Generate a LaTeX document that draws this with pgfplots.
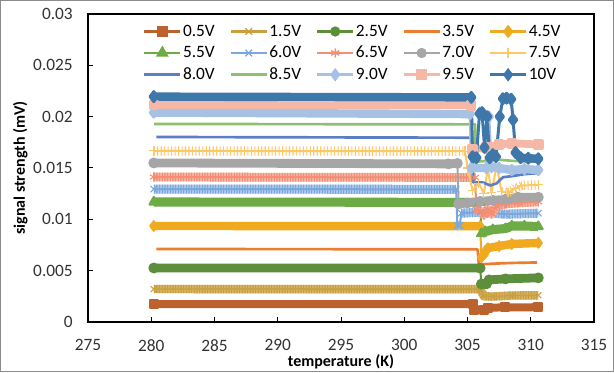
\documentclass[border=0pt]{standalone}
\usepackage{pgfplots}
\pgfplotsset{compat=1.18}
\usepackage{pgfplotstable}
\usepackage{fontspec}
\setmainfont{Carlito}
\definecolor{c05}{HTML}{BC622E}
\definecolor{c15}{HTML}{C9A03F}
\definecolor{c25}{HTML}{5C8E3C}
\definecolor{c35}{HTML}{ED7D31}
\definecolor{c45}{HTML}{EFAA1F}
\definecolor{c55}{HTML}{6CAB45}
\definecolor{c60}{HTML}{7BA8DC}
\definecolor{c65}{HTML}{F28E73}
\definecolor{c70}{HTML}{A6A6A6}
\definecolor{c75}{HTML}{FFC866}
\definecolor{c80}{HTML}{5B7EC7}
\definecolor{c85}{HTML}{8CC16E}
\definecolor{c90}{HTML}{A5C2E5}
\definecolor{c95}{HTML}{F5B8A7}
\definecolor{c10}{HTML}{3E77A9}
\definecolor{bordergray}{HTML}{8C8C8C}
\begin{document}
\pgfplotstableread{
x y
280.2 0.00175
305.4 0.00174
305.45 nan
305.5 0.00120
306.3 0.00120
306.6 0.00140
308.0 0.00142
310.6 0.00144
}\tA
\pgfplotstableread{
x y
280.2 0.00321
306.0 0.00320
306.3 0.00250
307.0 0.00248
308.5 0.00258
310.6 0.00260
}\tB
\pgfplotstableread{
x y
280.2 0.00526
306.0 0.00525
306.05 nan
306.1 0.00370
306.5 0.00372
306.7 0.00410
308.0 0.00420
310.6 0.00430
}\tC
\pgfplotstableread{
x y
280.4 0.00711
305.8 0.00708
305.9 0.00560
307.0 0.00568
308.5 0.00575
310.5 0.00580
}\tD
\pgfplotstableread{
x y
280.2 0.00935
306.0 0.00933
306.05 nan
306.1 0.00630
306.3 0.00660
306.6 0.00720
307.5 0.00740
308.5 0.00760
310.6 0.00770
}\tE
\pgfplotstableread{
x y
280.2 0.01169
306.0 0.01165
306.05 nan
306.1 0.00860
306.4 0.00880
307.0 0.00900
308.0 0.00910
308.5 0.00935
309.5 0.00935
310.6 0.00930
}\tF
\pgfplotstableread{
x y
280.2 0.01295
304.1 0.01292
304.15 nan
304.2 0.00940
304.4 0.00940
304.45 nan
304.5 0.01060
306.0 0.01070
308.0 0.01050
310.6 0.01060
}\tG
\pgfplotstableread{
x y
280.2 0.01412
305.6 0.01408
305.65 nan
305.7 0.01100
306.0 0.01080
306.3 0.01040
306.6 0.01100
306.9 0.01050
307.3 0.01130
308.0 0.01150
309.0 0.01160
310.6 0.01170
}\tH
\pgfplotstableread{
x y
280.2 0.01549
303.5 0.01540
304.2 0.01545
304.25 nan
304.3 0.01150
305.0 0.01160
306.0 0.01175
307.0 0.01185
308.0 0.01195
309.0 0.01215
310.6 0.01215
}\tI
\pgfplotstableread{
x y
280.2 0.01666
304.8 0.01664
304.85 nan
305.0 0.01500
305.05 nan
305.4 0.01280
305.45 nan
305.9 0.01350
305.95 nan
306.3 0.01250
306.35 nan
306.6 0.01500
306.65 nan
306.9 0.01260
306.95 nan
307.3 0.01520
307.35 nan
307.7 0.01270
308.2 0.01260
308.8 0.01300
309.3 0.01330
310.6 0.01335
}\tJ
\pgfplotstableread{
x y
280.4 0.01802
305.4 0.01795
305.45 0.01360
306.2 0.01360
306.8 0.01330
307.3 0.01350
307.8 0.01410
308.5 0.01420
309.5 0.01440
310.6 0.01450
}\tK
\pgfplotstableread{
x y
280.2 0.01929
305.6 0.01925
305.65 0.01560
306.5 0.01570
307.5 0.01580
308.5 0.01570
310.6 0.01560
}\tL
\pgfplotstableread{
x y
280.2 0.02040
305.2 0.02025
305.25 nan
305.3 0.01500
306.5 0.01500
306.55 nan
306.7 0.02000
306.75 nan
306.9 0.01510
307.5 0.01500
308.5 0.01480
309.5 0.01490
310.6 0.01480
}\tM
\pgfplotstableread{
x y
280.2 0.02114
305.3 0.02110
305.35 nan
305.4 0.01680
306.5 0.01700
307.5 0.01730
308.5 0.01740
310.6 0.01730
}\tN
\pgfplotstableread{
x y
280.2 0.02195
305.3 0.02188
305.35 nan
305.4 0.01610
305.7 0.01600
305.75 nan
305.95 0.02030
306.0 nan
306.15 0.02040
306.2 nan
306.35 0.01700
306.4 nan
306.55 0.02000
306.6 nan
306.75 0.01600
306.8 nan
307.0 0.01630
307.05 nan
307.25 0.01610
307.3 nan
307.55 0.02000
307.6 nan
307.8 0.02175
308.1 0.02180
308.45 0.02170
308.5 nan
308.6 0.01970
308.65 nan
308.8 0.01650
309.2 0.01600
309.8 0.01595
310.6 0.01590
}\tO
\begin{tikzpicture}
\useasboundingbox (-66pt,-38.25pt) rectangle (394.5pt,241.5pt);
\draw[color=bordergray, line width=0.75pt] (-65.25pt,-37.5pt) rectangle (393.75pt,240.75pt);
\begin{axis}[
  at={(0pt,0pt)}, anchor=south west,
  scale only axis, width=379.5pt, height=231pt,
  xmin=275, xmax=315, ymin=0, ymax=0.03,
  xtick={275,280,...,315},
  ytick={0,0.005,0.01,0.015,0.02,0.025,0.03},
  yticklabels={0,0.005,0.01,0.015,0.02,0.025,0.03},
  scaled ticks=false,
  tick align=inside, tick pos=left,
  major tick length=3.75pt,
  tick style={black, line width=0.75pt},
  axis line style={black, line width=1pt},
  tick label style={font=\fontsize{13}{15}\selectfont, text=black!80, inner sep=0pt},
  xticklabel style={anchor=north, yshift=-13pt},
  yticklabel style={anchor=east, xshift=-11.25pt},
  /pgf/number format/assume math mode=true,
  xlabel={temperature (K)},
  ylabel={signal strength (mV)},
  xlabel style={at={(axis description cs:0.5,-0.13)}, anchor=center, font=\bfseries\fontsize{12}{14}\selectfont},
  ylabel style={at={(axis description cs:-0.134,0.5)}, anchor=center, font=\bfseries\fontsize{12}{14}\selectfont},
  legend columns=5,
  legend cell align=left,
  legend image code/.code={\draw[mark repeat=2,mark phase=2,#1] plot coordinates {(0pt,0pt) (13.5pt,0pt) (27pt,0pt)};},
  legend style={at={(axis description cs:0.1087,0.969)}, anchor=north west, draw=none, fill=none,
    font=\fontsize{13}{15}\selectfont, inner sep=0pt, outer sep=0pt, row sep=4pt,
    nodes={inner sep=1pt},
    /tikz/every even column/.append style={column sep=10pt}},
  band/.style={unbounded coords=jump, mark=none, line join=round, forget plot},
  conn/.style={unbounded coords=discard, line join=round, line width=1.5pt, forget plot, mark options={solid}},
  filter discard warning=false,
]
% legend images
\addlegendimage{c05, line width=2pt, mark=square*, mark size=3pt}
\addlegendentry{0.5V}
\addlegendimage{c15, line width=2pt, mark=x, mark size=3.5pt, mark options={line width=1pt}}
\addlegendentry{1.5V}
\addlegendimage{c25, line width=2pt, mark=*, mark size=2.8pt}
\addlegendentry{2.5V}
\addlegendimage{c35, line width=2pt}
\addlegendentry{3.5V}
\addlegendimage{c45, line width=2pt, mark=diamond*, mark size=3.5pt}
\addlegendentry{4.5V}
\addlegendimage{c55, line width=2pt, mark=triangle*, mark size=3.6pt}
\addlegendentry{5.5V}
\addlegendimage{c60, line width=2pt, mark=x, mark size=3.5pt, mark options={line width=1pt}}
\addlegendentry{6.0V}
\addlegendimage{c65, line width=2pt, mark=asterisk, mark size=3.5pt, mark options={line width=1pt}}
\addlegendentry{6.5V}
\addlegendimage{c70, line width=2pt, mark=*, mark size=2.8pt}
\addlegendentry{7.0V}
\addlegendimage{c75, line width=2pt, mark=+, mark size=4pt, mark options={line width=1pt}}
\addlegendentry{7.5V}
\addlegendimage{c80, line width=2pt}
\addlegendentry{8.0V}
\addlegendimage{c85, line width=2pt}
\addlegendentry{8.5V}
\addlegendimage{c90, line width=2pt, mark=diamond*, mark size=3.5pt}
\addlegendentry{9.0V}
\addlegendimage{c95, line width=2pt, mark=square*, mark size=3pt}
\addlegendentry{9.5V}
\addlegendimage{c10, line width=2pt, mark=diamond*, mark size=3.5pt}
\addlegendentry{10V}
% 0.5V
\addplot[band, c05, line width=6pt] table {\tA};
\addplot[conn, c05, mark=square*, mark size=3pt] table {\tA};
% 1.5V
\addplot[band, c15!80!white, line width=6.3pt] table {\tB};
\addplot[band, c15, line width=6.3pt, dash pattern=on 0.8pt off 1.2pt] table {\tB};
\addplot[conn, c15, line width=1pt, mark=x, mark size=3.2pt, mark options={line width=0.8pt}] table {\tB};
% 2.5V
\addplot[band, c25, line width=6.6pt] table {\tC};
\addplot[conn, c25, mark=*, mark size=3.3pt] table {\tC};
% 3.5V
\addplot[conn, c35, line width=2pt] table {\tD};
% 4.5V
\addplot[band, c45, line width=6.3pt] table {\tE};
\addplot[conn, c45, mark=diamond*, mark size=3.6pt] table {\tE};
% 5.5V
\addplot[band, c55, line width=6.8pt] table {\tF};
\addplot[conn, c55, mark=triangle*, mark size=3.8pt] table {\tF};
% 6.0V
\addplot[band, c60!60!white, line width=6.8pt] table {\tG};
\addplot[band, c60, line width=6.8pt, dash pattern=on 0.8pt off 1.2pt] table {\tG};
\addplot[conn, c60, mark=x, mark size=3.4pt, mark options={line width=0.8pt}] table {\tG};
% 6.5V
\addplot[band, c65!65!white, line width=6.6pt] table {\tH};
\addplot[band, c65, line width=6.6pt, dash pattern=on 0.8pt off 1.2pt] table {\tH};
\addplot[conn, c65, mark=asterisk, mark size=3.4pt, mark options={line width=0.8pt}] table {\tH};
% 7.0V
\addplot[band, c70, line width=6.6pt] table {\tI};
\addplot[conn, c70, mark=*, mark size=3.3pt] table {\tI};
% 7.5V
\addplot[conn, c75, line width=1.5pt, mark=+, mark size=3.5pt, mark options={line width=0.8pt}] table {\tJ};
\addplot[band, c75, line width=7pt, dash pattern=on 0.8pt off 1.8pt] table {\tJ};
% 8.0V
\addplot[conn, c80, line width=2pt] table {\tK};
% 8.5V
\addplot[conn, c85, line width=2pt] table {\tL};
% 9.0V
\addplot[band, c90, line width=6.3pt] table {\tM};
\addplot[conn, c90, line width=2pt, mark=diamond*, mark size=3.6pt] table {\tM};
% 9.5V
\addplot[band, c95, line width=5.8pt] table {\tN};
\addplot[conn, c95, line width=2pt, mark=square*, mark size=2.9pt] table {\tN};
% 10V
\addplot[band, c10, line width=6.3pt] table {\tO};
\addplot[conn, c10, line width=2.25pt, mark=diamond*, mark size=3.7pt] table {\tO};
\end{axis}
\end{tikzpicture}
\end{document}
